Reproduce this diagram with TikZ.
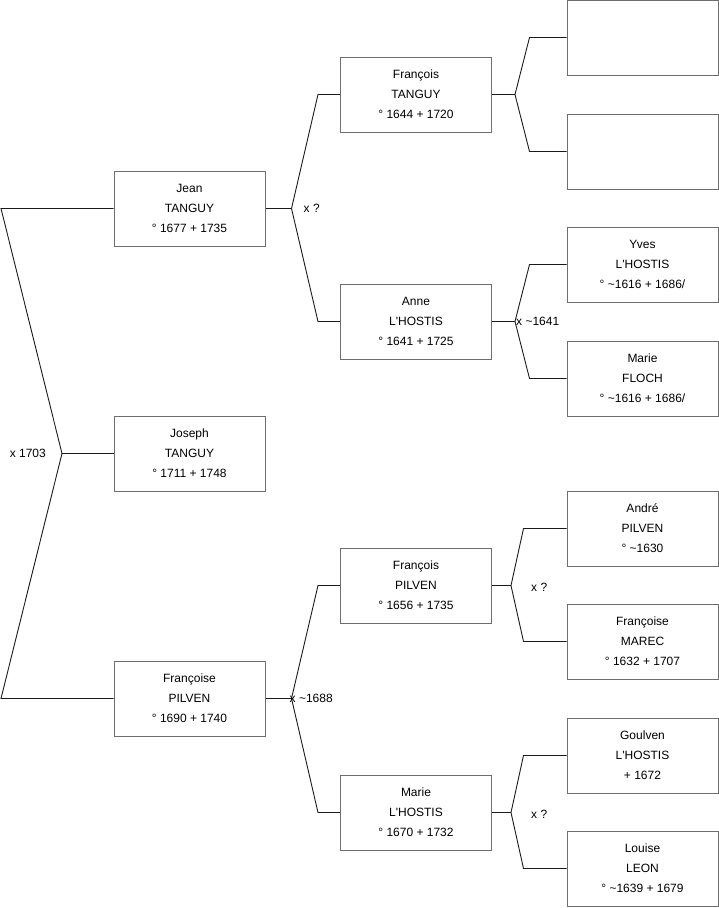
\documentclass[tikz,border=0pt]{standalone}
\usepackage{fontspec}
\setmainfont{Liberation Sans}
\usepackage{tikz}
\usetikzlibrary{positioning}
\definecolor{frame}{HTML}{6E6E6E}
\definecolor{link}{HTML}{1A1A1A}

\begin{document}
\begin{tikzpicture}[
  x=1pt, y=-1pt,
  person/.style={draw=frame, line width=1pt, align=center,
                 font=\fontsize{12}{20}\selectfont,
                 minimum width=151pt, minimum height=75pt, inner sep=0pt},
  tie/.style={draw=link, line width=0.9pt},
  wed/.style={font=\fontsize{12}{14}\selectfont, inner sep=0pt}
]
\useasboundingbox (0,0) rectangle (719,908);
% generation 1
\node[person] (jean)  at (189.5,208.5) {Jean\\TANGUY\\° 1677 + 1735};
\node[person] (jos)   at (189.5,453.5) {Joseph\\TANGUY\\° 1711 + 1748};
\node[person] (fpil)  at (189.5,698.5) {Françoise\\PILVEN\\° 1690 + 1740};
% generation 2
\node[person] (ftan)  at (416,94.5)  {François\\TANGUY\\° 1644 + 1720};
\node[person] (anne)  at (416,321.5) {Anne\\L\textquotesingle HOSTIS\\° 1641 + 1725};
\node[person] (frpil) at (416,585.5) {François\\PILVEN\\° 1656 + 1735};
\node[person] (mlh)   at (416,812.5) {Marie\\L\textquotesingle HOSTIS\\° 1670 + 1732};
% generation 3
\node[person] (e1)    at (642.5,37.5)  {};
\node[person] (e2)    at (642.5,151.5) {};
\node[person] (yves)  at (642.5,264.5) {Yves\\L\textquotesingle HOSTIS\\° \textasciitilde1616 + 1686/};
\node[person] (mfl)   at (642.5,378.5) {Marie\\FLOCH\\° \textasciitilde1616 + 1686/};
\node[person] (andre) at (642.5,528.5) {André\\PILVEN\\° \textasciitilde1630};
\node[person] (fmar)  at (642.5,641.5) {Françoise\\MAREC\\° 1632 + 1707};
\node[person] (goul)  at (642.5,755.5) {Goulven\\L\textquotesingle HOSTIS\\+ 1672};
\node[person] (lou)   at (642.5,868.5) {Louise\\LEON\\° \textasciitilde1639 + 1679};

% parents of Joseph
\coordinate (edge) at (1,0);
\coordinate (jx) at (62,453.5);
\draw[tie] (jean.west) -- (jean.west -| edge) -- (jx) -- (fpil.west -| edge) -- (fpil.west);
\draw[tie] (jx) -- (jos.west);
\node[wed, anchor=east] at ([xshift=-16pt]jx) {x 1703};

% parents of Jean
\draw[tie] (jean.east) -- ++(26,0) coordinate (jnx);
\draw[tie] (jnx) -- ([xshift=-22pt]ftan.west) -- (ftan.west);
\draw[tie] (jnx) -- ([xshift=-22pt]anne.west) -- (anne.west);
\node[wed, anchor=west] at ([xshift=12pt]jnx) {x ?};

% parents of Françoise
\draw[tie] (fpil.east) -- ++(26,0) coordinate (fpx);
\draw[tie] (fpx) -- ([xshift=-22pt]frpil.west) -- (frpil.west);
\draw[tie] (fpx) -- ([xshift=-22pt]mlh.west) -- (mlh.west);
\node[wed, anchor=west] at ([xshift=-2pt]fpx) {x \textasciitilde1688};

% parents of François TANGUY
\draw[tie] (ftan.east) -- ++(23,0) coordinate (ftx);
\draw[tie] (ftx) -- ([xshift=-37pt]e1.west) -- (e1.west);
\draw[tie] (ftx) -- ([xshift=-37pt]e2.west) -- (e2.west);

% parents of Anne
\draw[tie] (anne.east) -- ++(23,0) coordinate (anx);
\draw[tie] (anx) -- ([xshift=-37pt]yves.west) -- (yves.west);
\draw[tie] (anx) -- ([xshift=-37pt]mfl.west) -- (mfl.west);
\node[wed, anchor=west] at ([xshift=1pt]anx) {x \textasciitilde1641};

% parents of François PILVEN
\draw[tie] (frpil.east) -- ++(19,0) coordinate (frx);
\draw[tie] (frx) -- ([xshift=-43pt]andre.west) -- (andre.west);
\draw[tie] (frx) -- ([xshift=-43pt]fmar.west) -- (fmar.west);
\node[wed, anchor=west] at ([xshift=20pt,yshift=-2pt]frx) {x ?};

% parents of Marie L'HOSTIS
\draw[tie] (mlh.east) -- ++(19,0) coordinate (mlx);
\draw[tie] (mlx) -- ([xshift=-43pt]goul.west) -- (goul.west);
\draw[tie] (mlx) -- ([xshift=-43pt]lou.west) -- (lou.west);
\node[wed, anchor=west] at ([xshift=20pt,yshift=-2pt]mlx) {x ?};
\end{tikzpicture}
\end{document}
